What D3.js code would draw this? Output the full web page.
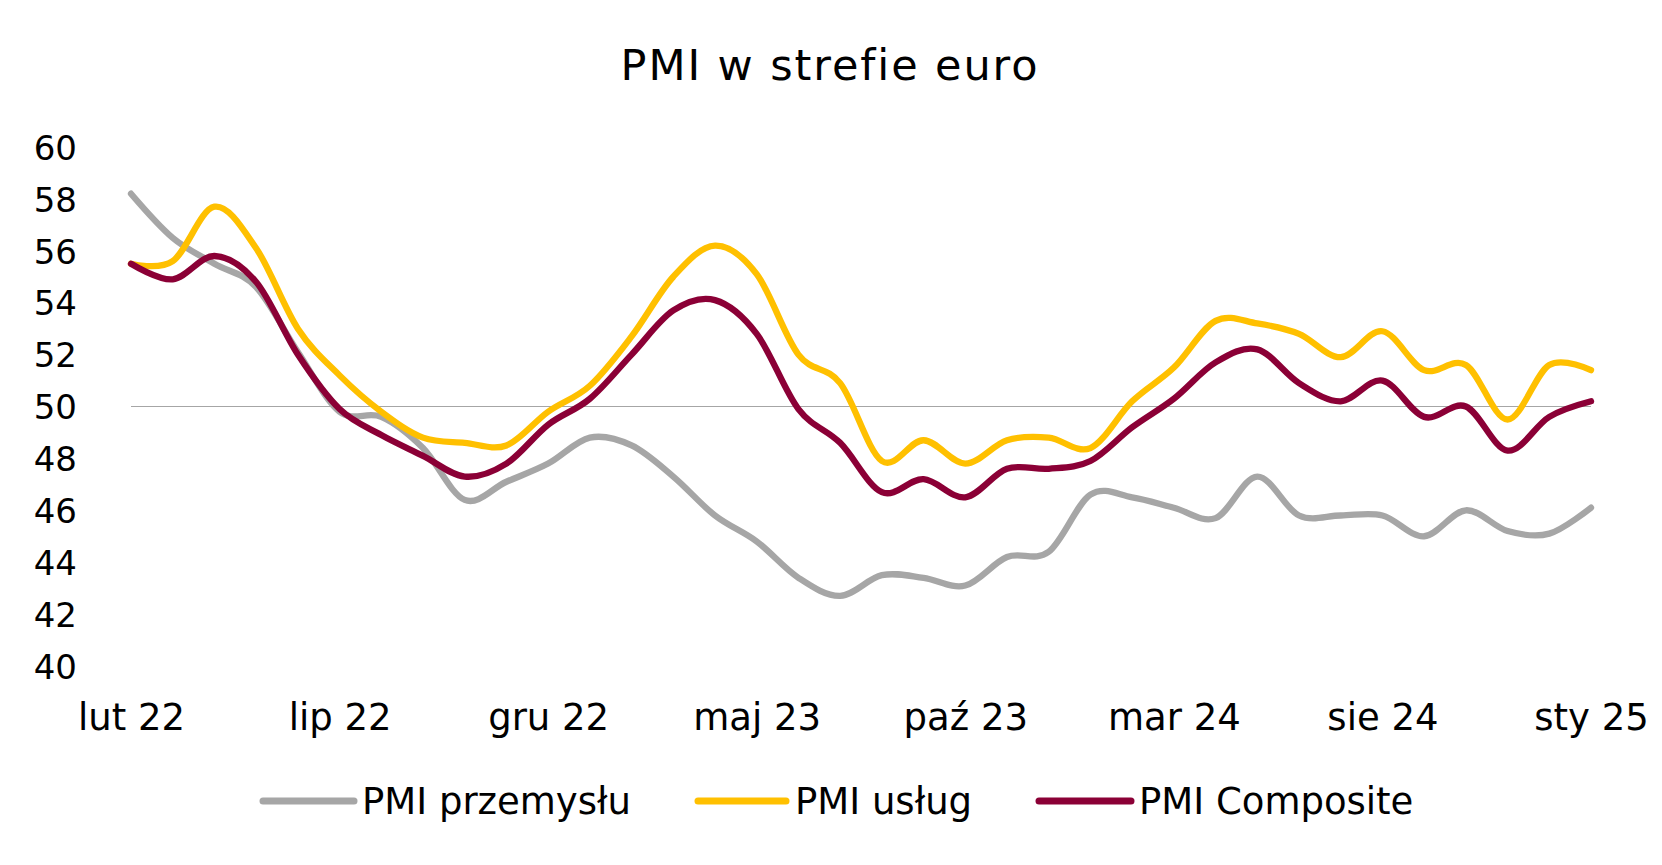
<!DOCTYPE html>
<html>
<head>
<meta charset="utf-8">
<script src="https://cdn.jsdelivr.net/npm/d3@7"></script>
<style>
  html, body { margin: 0; padding: 0; background: #fff; }
  svg { display: block; }
  text { font-family: Verdana, "DejaVu Sans", sans-serif; fill: #000; }
</style>
</head>
<body>
<svg id="chart" width="1662" height="865"></svg>
<script>
// ---- data ----
const months = ["lut 22","mar 22","kwi 22","maj 22","cze 22","lip 22","sie 22","wrz 22","paź 22","lis 22","gru 22",
  "sty 23","lut 23","mar 23","kwi 23","maj 23","cze 23","lip 23","sie 23","wrz 23","paź 23","lis 23","gru 23",
  "sty 24","lut 24","mar 24","kwi 24","maj 24","cze 24","lip 24","sie 24","wrz 24","paź 24","lis 24","gru 24","sty 25"];
const pmiPrzemyslu = [58.2,56.5,55.5,54.6,52.1,49.8,49.6,48.4,46.4,47.1,47.8,48.8,48.5,47.3,45.8,44.8,43.4,42.7,43.5,43.4,43.1,44.2,44.4,46.6,46.5,46.1,45.7,47.3,45.8,45.8,45.8,45.0,46.0,45.2,45.1,46.1];
const pmiUslug = [55.5,55.6,57.7,56.1,53.0,51.2,49.8,48.8,48.6,48.5,49.8,50.8,52.7,55.0,56.2,55.1,52.0,50.9,47.9,48.7,47.8,48.7,48.8,48.4,50.2,51.5,53.3,53.2,52.8,51.9,52.9,51.4,51.6,49.5,51.6,51.4];
const pmiComposite = [55.5,54.9,55.8,54.8,52.0,49.9,48.9,48.1,47.3,47.8,49.3,50.3,52.0,53.7,54.1,52.8,49.9,48.6,46.7,47.2,46.5,47.6,47.6,47.9,49.2,50.3,51.7,52.2,50.9,50.2,51.0,49.6,50.0,48.3,49.6,50.2];
const yTicks = [40,42,44,46,48,50,52,54,56,58,60];
const xTickIdx = [0,5,10,15,20,25,30,35];
const seriesNames = ["PMI przemysłu","PMI usług","PMI Composite"];
const seriesColors = ["#A6A6A6","#FFC000","#8B0036"];
const title = "PMI w strefie euro";

// ---- layout ----
const svg = d3.select("#chart");
const plotLeft = 131, plotRight = 1591, plotTop = 147, plotBottom = 666;

const x = d3.scaleLinear().domain([0, months.length - 1]).range([plotLeft, plotRight]);
const y = d3.scaleLinear().domain([40, 60]).range([plotBottom, plotTop]);

// title
svg.append("text")
  .attr("x", 830).attr("y", 80)
  .attr("text-anchor", "middle")
  .style("font-size", "43px")
  .style("letter-spacing", "1.9px")
  .text(title);

// y axis
const yAxis = svg.append("g")
  .attr("transform", `translate(${plotLeft},0)`)
  .call(d3.axisLeft(y).tickValues(yTicks).tickSize(0).tickPadding(54).tickFormat(d3.format("d")));
yAxis.select(".domain").remove();
yAxis.selectAll("text").style("font-size", "34px").attr("dy", "0.36em");

// x axis
const xAxis = svg.append("g")
  .attr("transform", `translate(0,${plotBottom})`)
  .call(d3.axisBottom(x).tickValues(xTickIdx).tickSize(0).tickPadding(38).tickFormat(i => months[i]));
xAxis.select(".domain").remove();
xAxis.selectAll("text").style("font-size", "37px");

// 50 reference line
svg.append("line")
  .attr("x1", plotLeft).attr("x2", plotRight)
  .attr("y1", y(50)).attr("y2", y(50))
  .attr("stroke", "#A6A6A6").attr("stroke-width", 1);

// lines
const line = d3.line()
  .x((d, i) => x(i))
  .y(d => y(d))
  .curve(d3.curveCardinal.tension(0));

const allSeries = [pmiPrzemyslu, pmiUslug, pmiComposite];
svg.append("g").selectAll("path")
  .data(allSeries)
  .join("path")
  .attr("d", d => line(d))
  .attr("fill", "none")
  .attr("stroke", (d, i) => seriesColors[i])
  .attr("stroke-width", 6.3)
  .attr("stroke-linecap", "round")
  .attr("stroke-linejoin", "round");

// legend
const legendItems = [
  { lx1: 263, lx2: 354, tx: 362 },
  { lx1: 698, lx2: 786, tx: 795 },
  { lx1: 1039, lx2: 1131, tx: 1139 }
];
const lg = svg.append("g");
legendItems.forEach((it, i) => {
  lg.append("line")
    .attr("x1", it.lx1).attr("x2", it.lx2)
    .attr("y1", 801).attr("y2", 801)
    .attr("stroke", seriesColors[i]).attr("stroke-width", 7)
    .attr("stroke-linecap", "round");
  lg.append("text")
    .attr("x", it.tx).attr("y", 814)
    .style("font-size", "37px")
    .text(seriesNames[i]);
});
</script>
</body>
</html>
